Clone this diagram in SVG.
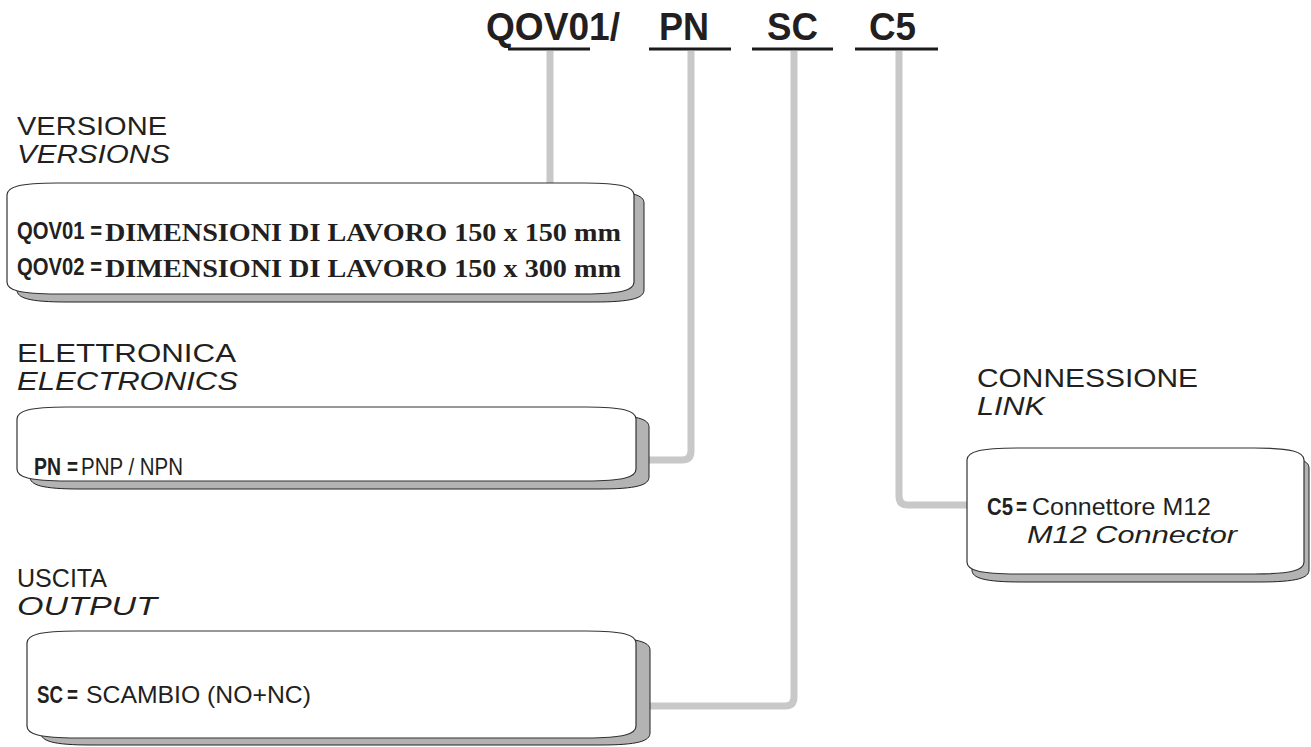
<svg xmlns="http://www.w3.org/2000/svg" width="1311" height="747" viewBox="0 0 1311 747">
<style>
.conn{fill:none;stroke:#c8c8c8;stroke-width:7}
.ul{stroke:#1a1a1a;stroke-width:3}
.box{fill:#fff;stroke:#333;stroke-width:1.2}
.sh{fill:#b3b3b3;stroke:#222;stroke-width:1}
.hd{font-family:"Liberation Sans",Arial,sans-serif;font-weight:bold;font-size:38px;fill:#231f20}
.lb{font-family:"Liberation Sans",Arial,sans-serif;font-size:25px;fill:#231f20}
.it{font-style:italic}
.b{font-family:"Liberation Sans",Arial,sans-serif;font-weight:bold;font-size:23px;fill:#231f20}
.tb{font-family:"Liberation Serif","Times New Roman",serif;font-weight:bold;font-size:25px;fill:#231f20}
.tx{font-family:"Liberation Sans",Arial,sans-serif;font-size:24px;fill:#231f20}
</style>
<g id="connectors">
<path class="conn" d="M550,51 L550,185"/>
<path class="conn" d="M691,51 L691,451 Q691,460 682,460 L648,460"/>
<path class="conn" d="M794,51 L794,697 Q794,706 785,706 L648,706"/>
<path class="conn" d="M899,51 L899,496 Q899,505 908,505 L968,505"/>
</g>
<g id="header">
<text class="hd" x="486" y="40" textLength="134" lengthAdjust="spacingAndGlyphs">QOV01/</text>
<text class="hd" x="659" y="40" textLength="50" lengthAdjust="spacingAndGlyphs">PN</text>
<text class="hd" x="767" y="40" textLength="51" lengthAdjust="spacingAndGlyphs">SC</text>
<text class="hd" x="869" y="40" textLength="47" lengthAdjust="spacingAndGlyphs">C5</text>
<line class="ul" x1="508" y1="49" x2="590" y2="49"/>
<line class="ul" x1="649" y1="49" x2="731" y2="49"/>
<line class="ul" x1="752" y1="49" x2="833" y2="49"/>
<line class="ul" x1="855" y1="49" x2="938" y2="49"/>
</g>
<g id="versioni">
<text class="lb" x="17" y="135" textLength="150" lengthAdjust="spacingAndGlyphs">VERSIONE</text>
<text class="lb it" x="17" y="163" textLength="153" lengthAdjust="spacingAndGlyphs">VERSIONS</text>
<path class="sh" d="M17,203 C17,195 29,191 67,191 L594,191 C632,191 644,195 644,203 L644,290 C644,298 632,302 594,302 L67,302 C29,302 17,298 17,290 Z"/>
<path class="box" d="M7,195 C7,187 19,183 57,183 L584,183 C622,183 634,187 634,195 L634,282 C634,290 622,294 584,294 L57,294 C19,294 7,290 7,282 Z"/>
<text class="b" x="17" y="239" textLength="85" lengthAdjust="spacingAndGlyphs">QOV01 =</text>
<text class="tb" x="105" y="241" textLength="516" lengthAdjust="spacingAndGlyphs">DIMENSIONI DI LAVORO 150 x 150 mm</text>
<text class="b" x="17" y="275" textLength="85" lengthAdjust="spacingAndGlyphs">QOV02 =</text>
<text class="tb" x="105" y="277" textLength="516" lengthAdjust="spacingAndGlyphs">DIMENSIONI DI LAVORO 150 x 300 mm</text>
</g>
<g id="elettronica">
<text class="lb" x="17" y="362" textLength="219" lengthAdjust="spacingAndGlyphs">ELETTRONICA</text>
<text class="lb it" x="17" y="390" textLength="221" lengthAdjust="spacingAndGlyphs">ELECTRONICS</text>
<path class="sh" d="M30,427 C30,419 42,415 80,415 L599,415 C637,415 649,419 649,427 L649,477 C649,485 637,489 599,489 L80,489 C42,489 30,485 30,477 Z"/>
<path class="box" d="M17,419 C17,411 29,407 67,407 L586,407 C624,407 636,411 636,419 L636,469 C636,477 624,481 586,481 L67,481 C29,481 17,477 17,469 Z"/>
<text class="b" x="34" y="475" textLength="27" lengthAdjust="spacingAndGlyphs">PN</text>
<text class="b" x="67" y="475" textLength="11" lengthAdjust="spacingAndGlyphs">=</text>
<text class="tx" x="81" y="475" textLength="102" lengthAdjust="spacingAndGlyphs">PNP / NPN</text>
</g>
<g id="uscita">
<text class="lb" x="17" y="587" textLength="90" lengthAdjust="spacingAndGlyphs">USCITA</text>
<text class="lb it" x="17" y="615" textLength="140" lengthAdjust="spacingAndGlyphs">OUTPUT</text>
<path class="sh" d="M41,650 C41,642 53,638 91,638 L600,638 C638,638 650,642 650,650 L650,733 C650,741 638,745 600,745 L91,745 C53,745 41,741 41,733 Z"/>
<path class="box" d="M27,643 C27,635 39,631 77,631 L586,631 C624,631 636,635 636,643 L636,726 C636,734 624,738 586,738 L77,738 C39,738 27,734 27,726 Z"/>
<text class="b" x="37" y="703" textLength="26" lengthAdjust="spacingAndGlyphs">SC</text>
<text class="b" x="67" y="703" textLength="11" lengthAdjust="spacingAndGlyphs">=</text>
<text class="tx" x="86" y="703" textLength="225" lengthAdjust="spacingAndGlyphs">SCAMBIO (NO+NC)</text>
</g>
<g id="connessione">
<text class="lb" x="977" y="387" textLength="221" lengthAdjust="spacingAndGlyphs">CONNESSIONE</text>
<text class="lb it" x="977" y="415" textLength="68" lengthAdjust="spacingAndGlyphs">LINK</text>
<path class="sh" d="M972,468 C972,460 984,456 1022,456 L1259,456 C1297,456 1309,460 1309,468 L1309,570 C1309,578 1297,582 1259,582 L1022,582 C984,582 972,578 972,570 Z"/>
<path class="box" d="M967,460 C967,452 979,448 1017,448 L1254,448 C1292,448 1304,452 1304,460 L1304,562 C1304,570 1292,574 1254,574 L1017,574 C979,574 967,570 967,562 Z"/>
<text class="b" x="987" y="515" textLength="26" lengthAdjust="spacingAndGlyphs">C5</text>
<text class="b" x="1016" y="515" textLength="11" lengthAdjust="spacingAndGlyphs">=</text>
<text class="tx" x="1032" y="515" textLength="179" lengthAdjust="spacingAndGlyphs">Connettore M12</text>
<text class="tx it" x="1027" y="543" textLength="210" lengthAdjust="spacingAndGlyphs">M12 Connector</text>
</g>
</svg>
